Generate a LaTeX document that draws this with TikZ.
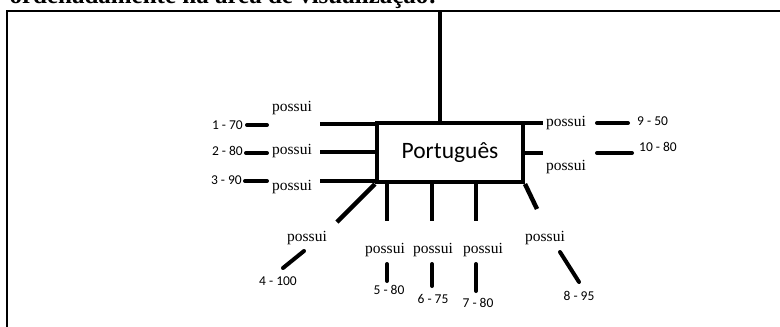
\documentclass[tikz,border=0pt]{standalone}
\usepackage{fontspec}
\setmainfont{Liberation Serif}
\newfontfamily\calfont{Carlito}
\begin{document}
\begin{tikzpicture}[x=1pt,y=-1pt,
  link/.style={line width=4.5pt},
  stub/.style={line width=4pt, line cap=round},
  rel/.style={font=\fontsize{15.5}{17}\selectfont, inner sep=0pt},
  val/.style={font=\calfont\fontsize{13.5}{15}\selectfont, inner sep=0pt},
  framing/.style={line width=2.5pt}]
\useasboundingbox (0,0) rectangle (780,327);

% heading, mostly cut off by the upper edge
\begin{scope}
  \clip (0,0) rectangle (780,10);
  \node[anchor=base east, font=\bfseries\fontsize{25}{28}\selectfont, inner sep=0pt]
    (head) at (437,3) {ordenadamente na área de visualização:};
\end{scope}

% frame
\coordinate (fr) at (780,11);
\coordinate (fc) at (7,11);
\coordinate (fb) at (7,327);
\draw[framing] (fr) -- (fc) -- (fb);

% central node
\node[draw, line width=4pt, minimum width=146pt, minimum height=59pt, inner sep=0pt,
      font=\calfont\fontsize{23.5}{26}\selectfont] (pt) at (450,152.5) {Português};

% line up to the frame
\coordinate (top) at (440,12);
\draw[link] (top) -- (top |- pt.north);

% left branches
\coordinate (l1) at (320,124);
\coordinate (l2) at (320,152);
\coordinate (l3) at (320,181);
\draw[link] (l1) -- (l1 -| pt.west);
\draw[link] (l2) -- (l2 -| pt.west);
\draw[link] (l3) -- (l3 -| pt.west);
\node[rel] (r1) at (292,108) {possui};
\node[rel] (r2) at (292,151) {possui};
\node[rel] (r3) at (292,187) {possui};
\coordinate (s1a) at (247,125); \coordinate (s1b) at (267,125);
\coordinate (s2a) at (246,153); \coordinate (s2b) at (267,153);
\coordinate (s3a) at (245,181); \coordinate (s3b) at (267,181);
\draw[stub] (s1a) -- (s1b);
\draw[stub] (s2a) -- (s2b);
\draw[stub] (s3a) -- (s3b);
\node[val, anchor=east] (v1) at (243,125) {1 - 70};
\node[val, anchor=east] (v2) at (243,151) {2 - 80};
\node[val, anchor=east] (v3) at (242,180) {3 - 90};

% right branches
\coordinate (q1) at (543,123);
\coordinate (q2) at (543,153);
\draw[link] (pt.east |- q1) -- (q1);
\draw[link] (pt.east |- q2) -- (q2);
\node[rel] (r9) at (566,123) {possui};
\node[rel] (r10) at (566,167) {possui};
\coordinate (s9a) at (597,123); \coordinate (s9b) at (628,123);
\coordinate (s10a) at (597,153); \coordinate (s10b) at (632,153);
\draw[stub] (s9a) -- (s9b);
\draw[stub] (s10a) -- (s10b);
\node[val, anchor=west] (v9) at (637,121) {9 - 50};
\node[val, anchor=west] (v10) at (639,147) {10 - 80};

% lower branches
\coordinate (d4) at (337,222);
\draw[link] (pt.south west) -- (d4);
\coordinate (b5) at (387,221);
\coordinate (b6) at (432,221);
\coordinate (b7) at (476,221);
\draw[link] (b5 |- pt.south) -- (b5);
\draw[link] (b6 |- pt.south) -- (b6);
\draw[link] (b7 |- pt.south) -- (b7);
\coordinate (d8) at (537,209);
\draw[link] (pt.south east) -- (d8);

\node[rel] (r4) at (307,238) {possui};
\node[rel] (r5) at (385,250) {possui};
\node[rel] (r6) at (433,250) {possui};
\node[rel] (r7) at (483,250) {possui};
\node[rel] (r8) at (545,238) {possui};

\coordinate (s4a) at (304,251); \coordinate (s4b) at (283,268);
\coordinate (s5a) at (387,264); \coordinate (s5b) at (387,281);
\coordinate (s6a) at (432,264); \coordinate (s6b) at (432,286);
\coordinate (s7a) at (476,264); \coordinate (s7b) at (476,291);
\coordinate (s8a) at (560,252); \coordinate (s8b) at (579,282);
\draw[stub] (s4a) -- (s4b);
\draw[stub] (s5a) -- (s5b);
\draw[stub] (s6a) -- (s6b);
\draw[stub] (s7a) -- (s7b);
\draw[stub] (s8a) -- (s8b);

\node[val] (v4) at (278,281) {4 - 100};
\node[val] (v5) at (389,290) {5 - 80};
\node[val] (v6) at (433,299) {6 - 75};
\node[val] (v7) at (478,303) {7 - 80};
\node[val] (v8) at (579,296) {8 - 95};
\end{tikzpicture}
\end{document}
